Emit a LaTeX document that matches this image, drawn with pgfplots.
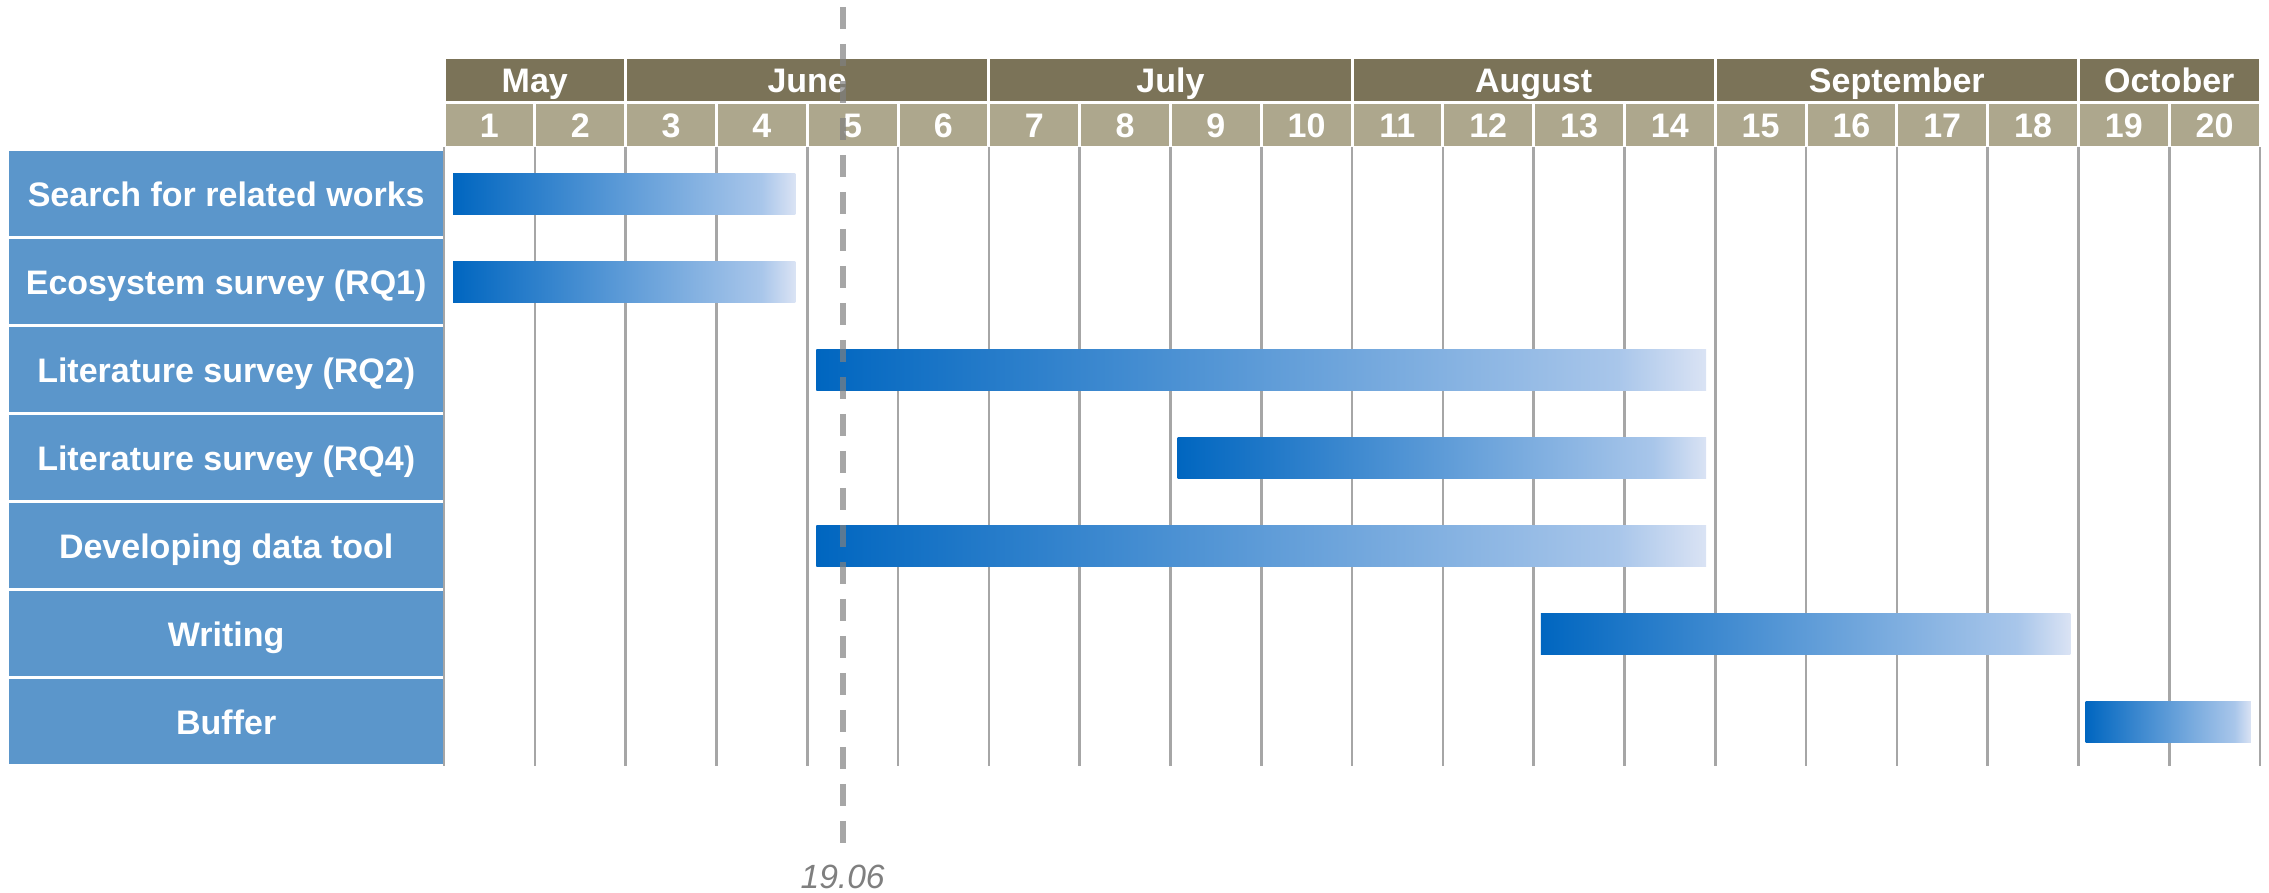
\documentclass[border=0pt]{standalone}
\usepackage{fontspec}
\setmainfont{Liberation Sans}
\usepackage{pgfplots}
\pgfplotsset{compat=1.18}

\definecolor{monthbg}{RGB}{123,115,88}
\definecolor{daybg}{RGB}{173,167,141}
\definecolor{taskbg}{RGB}{91,150,203}
\definecolor{gridgray}{RGB}{166,166,166}
\definecolor{todaygray}{RGB}{128,128,128}
\definecolor{datelabel}{RGB}{127,127,127}

% bar gradient, central 50bp is mapped onto each bar
\pgfdeclarehorizontalshading{barshade}{100bp}{%
  rgb(0bp)=(0,0.4,0.753);
  rgb(25bp)=(0,0.4,0.753);
  rgb(70bp)=(0.66,0.776,0.918);
  rgb(75bp)=(0.855,0.89,0.957);
  rgb(100bp)=(0.855,0.89,0.957)}

\newcommand{\lbl}{\fontsize{8.5}{10}\selectfont\bfseries}

\pgfplotsset{task/.style={draw=none, shade, shading=barshade}}
\tikzset{
  cell/.style={text=white, font=\lbl, inner sep=0pt, text height=6.1pt, text depth=0pt},
  month/.style={cell, fill=monthbg, minimum height=10.5pt},
}

\begin{document}
\begin{tikzpicture}
\begin{axis}[
    x=22.7pt, y=22pt,
    xmin=0, xmax=20, ymin=-7, ymax=0.034,
    clip=false, set layers,
    axis line style={draw=none},
    major tick length=0pt, minor tick length=0pt,
    xtick={0.5,1.5,...,19.5},
    xticklabels={1,2,3,4,5,6,7,8,9,10,11,12,13,14,15,16,17,18,19,20},
    xticklabel pos=upper,
    xticklabel style={cell, fill=daybg,
        minimum width=21.95pt, minimum height=10.5pt, anchor=south},
    minor xtick={0,1,...,20},
    xminorgrids, minor grid style={draw=gridgray, line width=0.65pt},
    ytick={-6.5,-5.5,-4.5,-3.5,-2.5,-1.5,-0.5},
    yticklabels={Buffer, Writing, Developing data tool, Literature survey (RQ4),
        Literature survey (RQ2), Ecosystem survey (RQ1), Search for related works},
    yticklabel style={cell, fill=taskbg,
        minimum width=108.5pt, minimum height=21.25pt, anchor=east},
]
% task bars: week start .. week end, one row each
\addplot[task] coordinates {(0.10,-0.267) (3.87,-0.267) (3.87,-0.733) (0.10,-0.733)};   % Search for related works
\addplot[task] coordinates {(0.10,-1.267) (3.87,-1.267) (3.87,-1.733) (0.10,-1.733)};   % Ecosystem survey
\addplot[task] coordinates {(4.10,-2.267) (13.90,-2.267) (13.90,-2.733) (4.10,-2.733)}; % Lit survey RQ2
\addplot[task] coordinates {(8.08,-3.267) (13.90,-3.267) (13.90,-3.733) (8.08,-3.733)}; % Lit survey RQ4
\addplot[task] coordinates {(4.10,-4.267) (13.90,-4.267) (13.90,-4.733) (4.10,-4.733)}; % data tool
\addplot[task] coordinates {(12.08,-5.267) (17.91,-5.267) (17.91,-5.733) (12.08,-5.733)}; % Writing
\addplot[task] coordinates {(18.08,-6.267) (19.90,-6.267) (19.90,-6.733) (18.08,-6.733)}; % Buffer

% month header
\node[month, minimum width=44.65pt] at (axis cs:1,0.795) {May};
\node[month, minimum width=90.05pt] at (axis cs:4,0.795) {June};
\node[month, minimum width=90.05pt] at (axis cs:8,0.795) {July};
\node[month, minimum width=90.05pt] at (axis cs:12,0.795) {August};
\node[month, minimum width=90.05pt] at (axis cs:16,0.795) {September};
\node[month, minimum width=44.65pt] at (axis cs:19,0.795) {October};

% today marker
\addplot[todaygray, opacity=0.7, line width=1.5pt,
    dash pattern=on 5.5pt off 3.75pt] coordinates {(4.39,1.625) (4.39,-8.0)};
\node[text=datelabel, font=\fontsize{8.4}{10}\selectfont\itshape] at (axis cs:4.39,-8.26) {19.06};

\coordinate (bbl) at (axis cs:-4.890,-8.443);
\coordinate (btr) at (axis cs:20.099,1.7045);
\end{axis}
\pgfresetboundingbox
\path[use as bounding box] (bbl) rectangle (btr);
\end{tikzpicture}
\end{document}
